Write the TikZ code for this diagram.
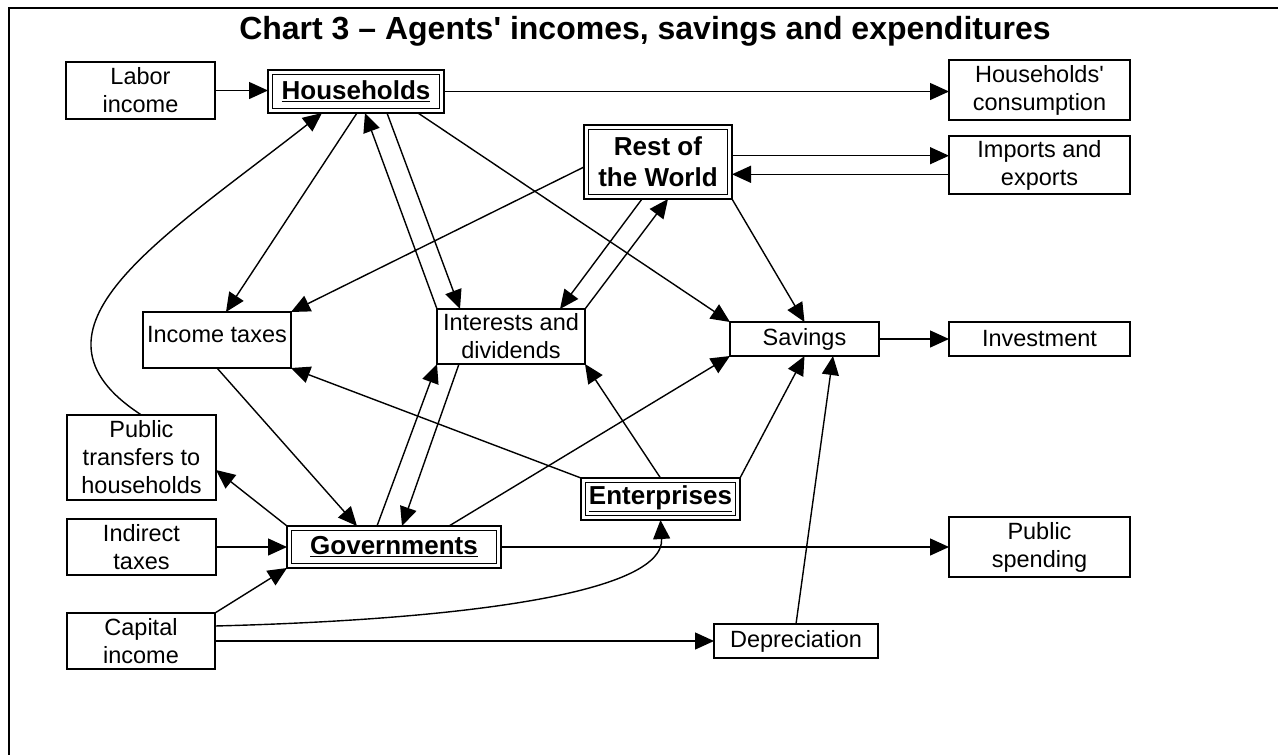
\documentclass[tikz,border=0pt]{standalone}
\usepackage{fontspec}
\setmainfont{Liberation Sans}
\usetikzlibrary{arrows.meta,calc}
\begin{document}
\begin{tikzpicture}[x=1pt,y=-1pt,
  conn/.style={line width=1.4pt, -{Triangle[length=19pt,width=17pt]}},
  box/.style={draw, line width=1.6pt, rectangle, inner sep=0pt, outer sep=0pt, align=center, font=\fontsize{23.5}{28}\selectfont},
  dbox/.style={draw, line width=1.6pt, rectangle, inner sep=0pt, outer sep=0pt, align=center, font=\fontsize{26}{31}\selectfont\bfseries},
  inner/.style={draw, line width=1.6pt},
  frame/.style={line width=2pt}]
\useasboundingbox (0,0) rectangle (1278,755);
\draw[frame] (9,755) -- (9,8) -- (1278,8);
\node[anchor=base, font=\fontsize{32}{38}\selectfont\bfseries] (title) at (645,39) {Chart 3 – Agents\textquotesingle{} incomes, savings and expenditures};
% nodes
\node[box, minimum width=149pt, minimum height=57pt] (labor) at (140.5,90.5) {Labor\\income};
\node[dbox, minimum width=176pt, minimum height=43pt] (hh) at (356,91.5) {\underline{Households}};
\node[box, minimum width=181pt, minimum height=60pt] (cons) at (1039.5,90) {Households\textquotesingle\\consumption};
\node[dbox, minimum width=148pt, minimum height=74pt] (row) at (658,162) {Rest of\\the World};
\node[box, minimum width=181pt, minimum height=58pt] (imp) at (1039.5,165) {Imports and\\exports};
\node[box, minimum width=148pt, minimum height=56pt, text height=17pt, text depth=13pt] (itax) at (217,340) {Income taxes};
\node[box, minimum width=148pt, minimum height=55pt] (intdiv) at (511,336.5) {Interests and\\dividends};
\node[box, minimum width=149pt, minimum height=34pt] (sav) at (804.5,339) {Savings};
\node[box, minimum width=181pt, minimum height=34pt] (inv) at (1039.5,339) {Investment};
\node[box, minimum width=149pt, minimum height=85pt] (ptr) at (141.5,457.5) {Public\\transfers to\\households};
\node[dbox, minimum width=159pt, minimum height=42pt] (ent) at (660.5,499) {\underline{Enterprises}};
\node[box, minimum width=149pt, minimum height=56pt] (itx) at (141.5,547) {Indirect\\taxes};
\node[dbox, minimum width=214pt, minimum height=42pt] (gov) at (394,547) {\underline{Governments}};
\node[box, minimum width=181pt, minimum height=60pt] (pub) at (1039.5,547) {Public\\spending};
\node[box, minimum width=148pt, minimum height=56pt] (cap) at (141,641) {Capital\\income};
\node[box, minimum width=164pt, minimum height=34pt] (dep) at (796,641) {Depreciation};
\foreach \n in {hh,row,ent,gov}
  \draw[inner] ($(\n.north west)+(4.5,4.5)$) rectangle ($(\n.south east)+(-4.5,-4.5)$);
% connector end points
\coordinate (rowout) at ($(row.east)+(0,-6.3)$);
\coordinate (impout) at ($(imp.west)+(0,9.3)$);
% connectors
\draw[conn] (labor.east) -- (labor.east -| hh.west);
\draw[conn] (hh.east) -- (hh.east -| cons.west);
\draw[conn] (rowout) -- (rowout -| imp.west);
\draw[conn] (impout) -- (impout -| row.east);
\draw[conn] ($(hh.south)+(1,0)$) -- ($(itax.north)+(9,0)$);
\draw[conn] ($(row.west)+(0,5)$) -- (itax.north east);
\draw[conn] (intdiv.north west) -- ($(hh.south)+(9,0)$);
\draw[conn] ($(hh.south)+(31,0)$) -- ($(intdiv.north west)+(23,0)$);
\draw[conn] ($(hh.south)+(62,0)$) -- (sav.north west);
\draw[conn] ($(row.south)+(-16,0)$) -- ($(intdiv.north east)+(-25,0)$);
\draw[conn] (intdiv.north east) -- ($(row.south)+(10,0)$);
\draw[conn] (row.south east) -- (sav.north);
\draw[conn] (sav.east) -- (sav.east -| inv.west);
\draw[conn] (ptr.north) .. controls (10,330) and (160,240) .. ($(hh.south)+(-34,0)$);
\draw[conn] (itax.south) -- ($(gov.north)+(-37,0)$);
\draw[conn] (gov.north west) -- ($(ptr.east)+(0,12.5)$);
\draw[conn] (itx.east) -- (itx.east -| gov.west);
\draw[conn] (cap.north east) -- (gov.south west);
\draw[conn] ($(cap.east)+(0,-15)$) .. controls (450,620) and (665,595) .. (ent.south);
\draw[conn] (cap.east) -- (cap.east -| dep.west);
\draw[conn] ($(gov.north)+(-17,0)$) -- (intdiv.south west);
\draw[conn] ($(intdiv.south west)+(22,0)$) -- ($(gov.north)+(8,0)$);
\draw[conn] ($(gov.north)+(55,0)$) -- (sav.south west);
\draw[conn] (gov.east) -- (gov.east -| pub.west);
\draw[conn] (ent.north west) -- (itax.south east);
\draw[conn] (ent.north) -- (intdiv.south east);
\draw[conn] (ent.north east) -- (sav.south);
\draw[conn] (dep.north) -- ($(sav.south)+(28.5,0)$);
\end{tikzpicture}
\end{document}
